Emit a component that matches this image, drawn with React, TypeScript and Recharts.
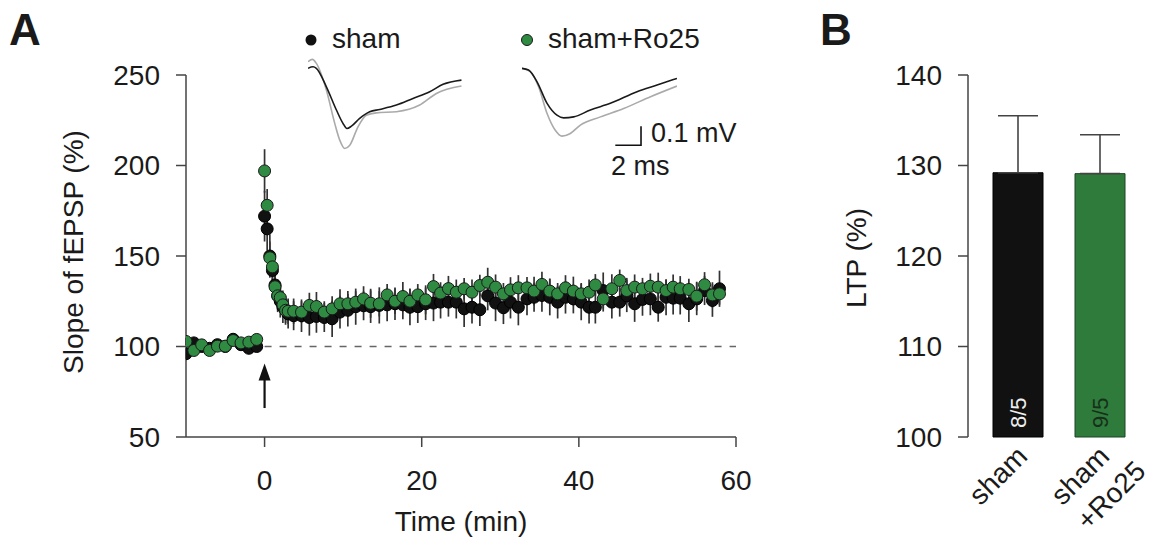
import React from 'react';
import {
  ScatterChart,
  Scatter,
  XAxis,
  YAxis,
  ErrorBar,
  ReferenceLine,
  ReferenceDot,
  BarChart,
  Bar,
  Cell,
  LabelList,
  LineChart,
  Line,
} from 'recharts';

const FONT = '"Liberation Sans", Arial, Helvetica, sans-serif';
const AXIS = '#444';
const TXT = '#1a1a1a';
const BLACK = '#111';
const GREEN = '#2f8a42';
const GREEN_BAR = '#2e7b3b';

// ---- panel A: slope of fEPSP over time (min) ----
const time = [
  -10, -9, -8, -7, -6, -5, -4, -3, -2, -1,
  0, 0.33, 0.67, 1, 1.33, 1.67, 2, 2.33, 2.67, 3,
  3.7, 4.7, 5.7, 6.6, 7.6, 8.6, 9.6, 10.6, 11.6, 12.6,
  13.5, 14.6, 15.6, 16.6, 17.6, 18.5, 19.5, 20.5, 21.5, 22.4,
  23.4, 24.4, 25.4, 26.4, 27.4, 28.4, 29.4, 30.4, 31.3, 32.3,
  33.4, 34.3, 35.3, 36.3, 37.3, 38.3, 39.3, 40.3, 41.3, 42.1,
  43.1, 44.2, 45.2, 46.1, 47.1, 48.1, 49.1, 50.1, 51.1, 52.0,
  52.9, 54.0, 55.0, 56.0, 57.0, 57.9,
];

const shamMean = [
  96, 102, 100, 99, 101, 100, 104, 101, 99, 100,
  172, 165, 150, 142, 134, 128, 125, 122, 120, 118,
  117, 117, 116, 116.6, 116, 115.3, 119, 120, 122, 122.5,
  122, 122.7, 123, 123.6, 123, 121.7, 122, 123.6, 124, 124.5,
  124.5, 124.5, 120.8, 121.7, 120.3, 128, 124, 121.4, 124.5, 121.7,
  126.3, 127.2, 128.2, 127.2, 124.5, 127.2, 126.3, 124.5, 121.7, 121.7,
  130.9, 124.5, 124.5, 128, 123.6, 126, 126.3, 121.7, 127.2, 126.7,
  126.7, 123.6, 126.3, 130.9, 125.4, 131.9,
];

const shamSem = [
  3, 3, 2.5, 3, 2, 3, 3, 2.5, 3, 2,
  14, 12, 12, 10, 10, 9, 9, 9, 8, 8,
  8, 9, 10, 9, 8, 10, 9, 9, 10, 8,
  9, 10, 9, 9, 8, 10, 9, 9, 10, 9,
  8, 9, 10, 9, 9, 8, 10, 9, 9, 10,
  9, 8, 9, 10, 9, 9, 8, 10, 9, 9,
  10, 9, 8, 9, 10, 9, 9, 8, 10, 9,
  9, 10, 9, 8, 9, 10,
];

const roMean = [
  102.8, 97.8, 100.9, 97.8, 100.2, 100.2, 103.3, 102, 102.4, 103.9,
  197, 178, 149, 144, 133, 128, 127, 123, 120, 119.5,
  119.5, 119, 122.7, 122.1, 119, 120.8, 123.6, 123.6, 124.5, 126.3,
  123.9, 123.6, 128.5, 125, 127.6, 125, 128.5, 125.8, 133.1, 129.5,
  132, 130, 131.9, 130, 133.7, 135.5, 132.8, 129.1, 131.3, 132.4,
  132.4, 130.6, 134.3, 130.6, 129.1, 132.4, 130.6, 129.1, 130, 134,
  126.3, 131.9, 136.5, 130.9, 132.8, 131.9, 133.3, 132.8, 130.9, 132.8,
  131.9, 131.5, 127.8, 134.1, 128.5, 129.1,
];

const roSem = [
  2, 2, 2.5, 2, 2, 2, 2.5, 2, 2, 2,
  12, 9, 9, 8, 8, 8, 7, 7, 7, 7,
  7, 6, 7, 8, 6, 7, 8, 7, 6, 7,
  8, 7, 6, 7, 8, 7, 6, 8, 7, 6,
  7, 7, 6, 7, 6, 8, 7, 6, 7, 7,
  6, 8, 7, 7, 6, 7, 8, 6, 7, 6,
  7, 8, 6, 7, 7, 6, 7, 8, 6, 7,
  7, 6, 8, 7, 7, 6,
];

const slopeTicks = [50, 100, 150, 200, 250];
const timeTicks = [0, 20, 40, 60];

// ---- inset traces: time (ms) vs voltage (mV) ----
const shamTraceT = [0, 0.39, 0.65, 1.43, 2.21, 2.72, 3.03, 3.38, 4.02, 4.8, 5.58, 6.88, 8.17, 9.47, 10.51, 11.94];
const shamTraceV = [0, 0.008, 0, -0.097, -0.219, -0.289, -0.316, -0.304, -0.263, -0.228, -0.216, -0.193, -0.158, -0.123, -0.084, -0.062];
const shamBaseT = [0, 0.34, 0.65, 1.43, 2.08, 2.47, 2.86, 3.25, 3.89, 4.54, 5.32, 6.88, 8.69, 9.99, 11.94];
const shamBaseV = [0.035, 0.047, 0.026, -0.114, -0.289, -0.377, -0.421, -0.404, -0.307, -0.246, -0.234, -0.228, -0.193, -0.132, -0.093];
const roTraceT = [0, 0.51, 1.17, 1.95, 2.72, 3.24, 4.02, 5.32, 6.87, 8.95, 10.51, 12.06];
const roTraceV = [0, -0.009, -0.071, -0.184, -0.246, -0.26, -0.255, -0.219, -0.184, -0.123, -0.088, -0.053];
const roBaseT = [0, 0.65, 1.29, 1.95, 2.59, 3.11, 3.76, 4.54, 6.1, 7.91, 10.0, 12.06];
const roBaseV = [0, -0.018, -0.097, -0.237, -0.325, -0.356, -0.342, -0.298, -0.255, -0.211, -0.149, -0.093];
const scaleBarT = [7.26, 9.26, 9.26];
const scaleBarV = [-0.404, -0.404, -0.304];

// ---- panel B: LTP ----
const groups = ['sham', 'sham\n+Ro25'];
const ltpMean = [129.2, 129.1];
const ltpSem = [6.3, 4.3];
const nLabels = ['8/5', '9/5'];
const ltpTicks = [100, 110, 120, 130, 140];

const shamData = time.map((t, i) => ({ t, v: shamMean[i], e: shamSem[i] }));
const roData = time.map((t, i) => ({ t, v: roMean[i], e: roSem[i] }));
const toPts = (ts: number[], vs: number[]) => ts.map((t, i) => ({ t, v: vs[i] }));
const ltpData = groups.map((name, i) => ({
  name,
  ltp: ltpMean[i],
  err: [0, ltpSem[i]],
  n: nLabels[i],
}));

const tickStyle = { fontSize: 28, fill: TXT, fontFamily: FONT };
const axisLine = { stroke: AXIS, strokeWidth: 1.5 };

const Dot = (fill: string, stroke: string) => (p: any) => (
  <circle cx={p.cx} cy={p.cy} r={6} fill={fill} stroke={stroke} strokeWidth={1} />
);

const ArrowHead = (p: any) => (
  <path d={`M${p.cx},${p.cy} L${p.cx - 6},${p.cy + 17} L${p.cx + 6},${p.cy + 17} Z`} fill="#111" />
);

const GroupTick = (p: any) => {
  const lines = String(p.payload.value).split('\n');
  return (
    <g transform={`translate(${p.x + 11}, ${p.y + 13}) rotate(-45)`}>
      <text textAnchor="end" fontSize={28} fill={TXT} fontFamily={FONT}>
        {lines[0]}
      </text>
      {lines[1] && (
        <text x={-68} y={36} textAnchor="start" fontSize={28} fill={TXT} fontFamily={FONT}>
          {lines[1]}
        </text>
      )}
    </g>
  );
};

const nColors = ['#eeeeee', '#16301a'];
const renderN = (p: any) => {
  const x = Number(p.x);
  const y = Number(p.y);
  const w = Number(p.width);
  const h = Number(p.height);
  return (
    <text
      transform={`translate(${x + w / 2 + 8}, ${y + h - 9}) rotate(-90)`}
      fontSize={22}
      fill={nColors[p.index]}
      fontFamily={FONT}
    >
      {p.value}
    </text>
  );
};

const Trace = ({ lines, left, bar }: { lines: { d: any[]; c: string }[]; left: number; bar?: boolean }) => (
  <div style={{ position: 'absolute', left, top: 55 }}>
    <LineChart width={155} height={99} margin={{ top: 0, right: 0, left: 0, bottom: 0 }}>
      <XAxis type="number" dataKey="t" domain={[0, 12.06]} hide allowDataOverflow />
      <YAxis type="number" dataKey="v" domain={[-0.45, 0.07]} hide allowDataOverflow />
      {lines.map((l, i) => (
        <Line
          key={i}
          data={l.d}
          dataKey="v"
          type="monotone"
          stroke={l.c}
          strokeWidth={1.6}
          dot={false}
          isAnimationActive={false}
        />
      ))}
      {bar && (
        <Line
          data={toPts(scaleBarT, scaleBarV)}
          dataKey="v"
          type="linear"
          stroke="#111"
          strokeWidth={1.6}
          dot={false}
          isAnimationActive={false}
        />
      )}
    </LineChart>
  </div>
);

export default function App() {
  return (
    <div style={{ position: 'absolute', left: 0, top: 0, width: 1156, height: 542, background: '#fff', fontFamily: FONT }}>
      <div style={{ position: 'absolute', left: 0, top: 0 }}>
        <ScatterChart width={760} height={542} margin={{ top: 75, right: 24, left: 106, bottom: 60 }}>
          <XAxis
            type="number"
            dataKey="t"
            domain={[-10, 60]}
            ticks={timeTicks}
            allowDataOverflow
            height={45}
            tickSize={10}
            tickMargin={23}
            axisLine={axisLine}
            tickLine={axisLine}
            tick={tickStyle}
          />
          <YAxis
            type="number"
            dataKey="v"
            domain={[50, 250]}
            ticks={slopeTicks}
            width={80}
            tickSize={10}
            tickMargin={16}
            axisLine={axisLine}
            tickLine={axisLine}
            tick={tickStyle}
          />
          <ReferenceLine
            segment={[{ x: 0, y: 100 }, { x: 60, y: 100 }]}
            stroke="#666"
            strokeWidth={1.5}
            strokeDasharray="7 8"
          />
          <ReferenceLine segment={[{ x: 0, y: 66 }, { x: 0, y: 82 }]} stroke="#111" strokeWidth={2.2} />
          <ReferenceDot x={0} y={90.6} r={0} shape={ArrowHead} />
          <Scatter data={shamData} dataKey="v" shape={Dot(BLACK, '#000')} isAnimationActive={false}>
            <ErrorBar dataKey="e" direction="y" width={0} stroke="#333" strokeWidth={1.7} />
          </Scatter>
          <Scatter data={roData} dataKey="v" shape={Dot(GREEN, '#1a1a1a')} isAnimationActive={false}>
            <ErrorBar dataKey="e" direction="y" width={0} stroke="#333" strokeWidth={1.7} />
          </Scatter>
        </ScatterChart>
      </div>

      <Trace
        left={308}
        lines={[
          { d: toPts(shamBaseT, shamBaseV), c: '#aaaaaa' },
          { d: toPts(shamTraceT, shamTraceV), c: '#1a1a1a' },
        ]}
      />
      <Trace
        left={522}
        bar
        lines={[
          { d: toPts(roBaseT, roBaseV), c: '#aaaaaa' },
          { d: toPts(roTraceT, roTraceV), c: '#1a1a1a' },
        ]}
      />

      <div style={{ position: 'absolute', left: 800, top: 0 }}>
        <BarChart width={356} height={542} data={ltpData} margin={{ top: 75, right: 15, left: 88, bottom: 0 }}>
          <XAxis
            dataKey="name"
            height={105}
            axisLine={false}
            tickLine={false}
            interval={0}
            padding={{ left: 9, right: 0 }}
            tick={GroupTick}
          />
          <YAxis
            type="number"
            domain={[100, 140]}
            ticks={ltpTicks}
            width={80}
            tickSize={10}
            tickMargin={16}
            axisLine={axisLine}
            tickLine={axisLine}
            tick={tickStyle}
          />
          <Bar dataKey="ltp" barSize={50} isAnimationActive={false}>
            <Cell fill={BLACK} stroke="#000" />
            <Cell fill={GREEN_BAR} stroke="#1d4424" />
            <ErrorBar dataKey="err" direction="y" width={20} stroke="#444" strokeWidth={1.6} />
            <LabelList dataKey="n" content={renderN} />
          </Bar>
        </BarChart>
      </div>

      <svg width={1156} height={542} style={{ position: 'absolute', left: 0, top: 0, pointerEvents: 'none' }}>
        <g fontFamily={FONT} fill={TXT}>
          <text x={9} y={45} fontSize={44} fontWeight="bold">A</text>
          <text x={820} y={45} fontSize={44} fontWeight="bold">B</text>
          <circle cx={311} cy={40} r={5.5} fill={BLACK} />
          <text x={332} y={48} fontSize={28}>sham</text>
          <circle cx={527} cy={40} r={5.5} fill={GREEN} stroke="#1a1a1a" />
          <text x={548} y={48} fontSize={28}>sham+Ro25</text>
          <text x={651} y={142} fontSize={27}>0.1 mV</text>
          <text x={611} y={175} fontSize={27}>2 ms</text>
          <text x={461} y={531} fontSize={28} textAnchor="middle">Time (min)</text>
          <text transform="translate(73,252) rotate(-90)" fontSize={28} textAnchor="middle" dy="0.35em">
            Slope of fEPSP (%)
          </text>
          <text transform="translate(856,258) rotate(-90)" fontSize={28} textAnchor="middle" dy="0.35em">
            LTP (%)
          </text>
        </g>
      </svg>
    </div>
  );
}
